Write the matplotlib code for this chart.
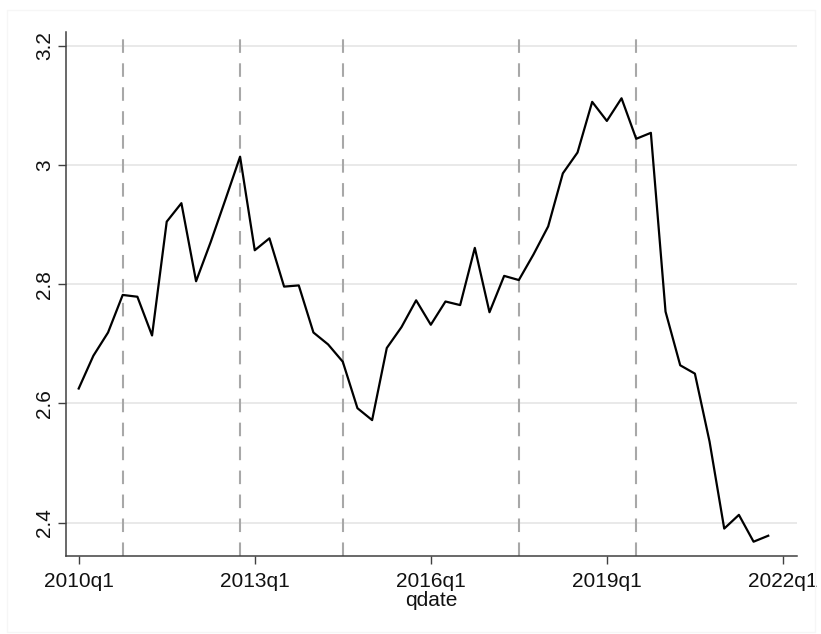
import pandas as pd
import matplotlib
matplotlib.use("Agg")
import matplotlib.pyplot as plt
from matplotlib.patches import Rectangle

# quarterly series, 2010q1 .. 2021q4
quarters = [str(p).replace("Q", "q") for p in pd.period_range("2010Q1", "2021Q4", freq="Q")]
values = [
    2.625, 2.680, 2.719, 2.782, 2.779, 2.714, 2.905, 2.936,
    2.805, 2.871, 2.942, 3.014, 2.857, 2.877, 2.796, 2.798,
    2.719, 2.699, 2.670, 2.592, 2.572, 2.693, 2.728, 2.773,
    2.732, 2.771, 2.765, 2.861, 2.753, 2.814, 2.807, 2.850,
    2.897, 2.986, 3.021, 3.106, 3.074, 3.112, 3.044, 3.054,
    2.754, 2.664, 2.650, 2.536, 2.390, 2.413, 2.368, 2.378,
]
event_quarters = ["2010q4", "2012q4", "2014q3", "2017q3", "2019q3"]
xtick_labels = ["2010q1", "2013q1", "2016q1", "2019q1", "2022q1"]
ytick_values = [2.4, 2.6, 2.8, 3.0, 3.2]
ytick_labels = ["2.4", "2.6", "2.8", "3", "3.2"]

plt.rcParams["font.family"] = ["Liberation Sans", "DejaVu Sans"]

def qindex(label):
    year, q = label.split("q")
    return (int(year) - 2010) * 4 + int(q) - 1

x = [qindex(q) for q in quarters]

fig = plt.figure(figsize=(8.21, 6.34), dpi=100)
fig.patch.set_facecolor("white")
fig.add_artist(Rectangle((7 / 821, 2 / 634), 808 / 821, 622 / 634, transform=fig.transFigure,
                         fill=False, edgecolor="#f6f6f6", linewidth=1))

ax = fig.add_axes([65.7 / 821, 1 - 555.7 / 634, 731 / 821, 523.4 / 634])

for yv in ytick_values:
    ax.axhline(yv, color="#e3e3e3", linewidth=1.1, zorder=1)
for eq in event_quarters:
    ax.axvline(qindex(eq), color="#a8a8a8", linewidth=1.5, linestyle=(0, (6.5, 5)), zorder=2)

ax.plot(x, values, color="black", linewidth=1.6, zorder=3)

ax.set_xlim(-0.886, 48.94)
ax.set_ylim(2.3445, 3.2227)
ax.set_xticks([qindex(t) for t in xtick_labels])
ax.set_xticklabels(xtick_labels)
ax.set_yticks(ytick_values)
ax.set_yticklabels(ytick_labels, rotation=90, va="center")
ax.tick_params(axis="both", labelsize=15, length=5.5, width=1, color="#404040", labelcolor="#111111")
ax.tick_params(axis="y", pad=3)
ax.tick_params(axis="x", pad=6)
ax.set_xlabel("qdate", fontsize=15, color="#111111", labelpad=0)

for side in ["top", "right"]:
    ax.spines[side].set_visible(False)
for side in ["left", "bottom"]:
    ax.spines[side].set_color("#404040")
    ax.spines[side].set_linewidth(1.1)

fig.savefig("out.png", dpi=100)
